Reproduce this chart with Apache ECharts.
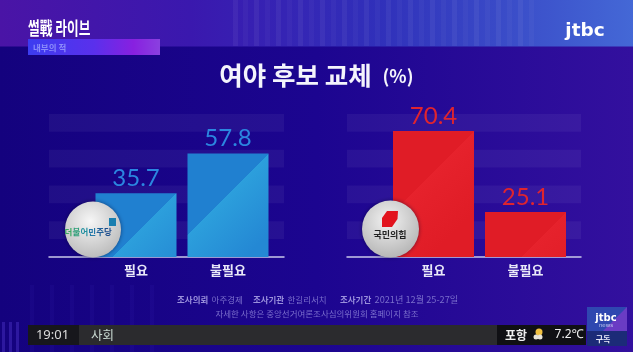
<!DOCTYPE html>
<html><head><meta charset="utf-8">
<style>html,body{margin:0;padding:0;background:#14027f}#c{width:633px;height:352px;filter:blur(0.4px)}</style>
<script src="https://cdn.jsdelivr.net/npm/echarts@6/dist/echarts.min.js"></script>
</head><body><div id="c"></div>
<script>
const categories = ['필요', '불필요'];
const democraticValues = [35.7, 57.8];
const peoplePowerValues = [70.4, 25.1];
const titleText = '여야 후보 교체';
const unitText = '(%)';
const showTitle = '썰戰 라이브';
const subTitle = '내부의 적';
const partyLeft = '더불어민주당';
const partyRight = '국민의힘';
const sourceLine2 = '자세한 사항은 중앙선거여론조사심의위원회 홈페이지 참조';
const clock = '19:01', section = '사회', city = '포항', temp = '7.2℃';

const KR = '"Noto Sans CJK KR","Noto Sans",sans-serif';
const chart = echarts.init(document.getElementById('c'), null, {renderer:'canvas'});
const yMax = 90, plotTop = 96, plotH = 161;
const pxPerUnit = plotH / yMax, barW = 81;

function grad(dark, light, end, v){
  return {type:'linear', x:0, y:0, x2:1, y2:barW/(v*pxPerUnit), colorStops:[
    {offset:0,color:dark},{offset:.5,color:dark},{offset:.5,color:light},{offset:1,color:end}]};
}
const panels = [
  {bg:[49,235], bar:[90,184], values:democraticValues, label:'#2b86e0', g:['#2080d0','#2c9fdc','#2488d4']},
  {bg:[347,234], bar:[387.5,184], values:peoplePowerValues, label:'#e0242e', g:['#e01c26','#e6222c','#e01c26']}
];
const grid=[], xAxis=[], yAxis=[], series=[];
panels.forEach((p,i)=>{
  grid.push({left:p.bg[0], width:p.bg[1], top:plotTop, height:plotH});
  xAxis.push({type:'category', gridIndex:i*2, data:[''], show:true, axisLine:{show:true,lineStyle:{color:'#c9c9ea',width:1.5}}, axisTick:{show:false}, axisLabel:{show:false}});
  yAxis.push({type:'value', gridIndex:i*2, min:0, max:yMax, interval:10, axisLabel:{show:false}, axisLine:{show:false}, axisTick:{show:false}, splitLine:{show:false},
    splitArea:{show:true, areaStyle:{color:['rgba(255,255,255,0)','rgba(255,255,255,0.05)']}}});
  grid.push({left:p.bar[0], width:p.bar[1], top:plotTop, height:plotH});
  xAxis.push({type:'category', gridIndex:i*2+1, data:categories, axisLine:{show:false}, axisTick:{show:false},
    axisLabel:{color:'#e8e8f8', fontFamily:KR, fontSize:13, fontWeight:'bold', margin:7}});
  yAxis.push({type:'value', gridIndex:i*2+1, min:0, max:yMax, interval:10, show:false});
  series.push({type:'bar', xAxisIndex:i*2+1, yAxisIndex:i*2+1, barWidth:barW, silent:true,
    data:p.values.map(v=>({value:v, itemStyle:{color:grad(p.g[0],p.g[1],p.g[2],v)}})),
    label:{show:true, position:'top', distance:3, color:p.label, fontFamily:'Lato,"Noto Sans",sans-serif', fontSize:24,
      formatter:o=>o.value.toFixed(1)}});
});

const bands = [];
[233,243,254,265,276,287,298,309,320,331,342,353,364,375,386,397,408,419,430,441,452,463,474,485,496,507,518,529].forEach((x,i)=>{
  bands.push({type:'rect', z:-1, shape:{x,y:0,width:5,height:46}, style:{fill:'rgba(255,255,255,'+(i%2?0.03:0.05)+')'}});
});
[2,9,16].forEach((x)=>{
  bands.push({type:'rect', z:-1, shape:{x,y:322,width:3,height:30}, style:{fill:'rgba(120,90,255,0.25)'}});
});
[30,50,70,90,110,130,150].forEach((x,i)=>{
  bands.push({type:'rect', z:-1, shape:{x,y:285,width:4,height:67}, style:{fill:'rgba(120,90,255,0.05)'}});
});
const T=(text,x,y,font,fill,align,z,extra)=>Object.assign({type:'text', z:z||5, style:{text,x,y,font,fill,align:align||'center',verticalAlign:'middle'}},extra||{});
const greenBlue=['#3aa862','#2f9f7a','#2290a0','#2478a8','#205f98','#1c4c8c'];

const graphic = [
  {type:'rect', z:-2, shape:{x:0,y:0,width:633,height:46.5}, style:{fill:{type:'linear',x:0,y:0,x2:1,y2:0,colorStops:[
    {offset:0,color:'#4a14a6'},{offset:.3,color:'#3a18ae'},{offset:.6,color:'#3030ba'},{offset:1,color:'#4468d6'}]}}},
  ...bands,
  {type:'rect', z:4, shape:{x:28,y:39,width:132,height:16}, style:{fill:{type:'linear',x:0,y:0,x2:1,y2:0,colorStops:[
    {offset:0,color:'#3c3cf0'},{offset:.5,color:'#5a30ec'},{offset:.8,color:'#8820e0'},{offset:1,color:'#8a40e0'}]}}},
  {type:'text', z:5, x:28, y:28, scaleX:.82, scaleY:1.15, style:{text:showTitle,x:0,y:0,font:'bold 15.5px '+KR,fill:'#ffffff',align:'left',verticalAlign:'middle'}},
  T(subTitle,33,47.5,'bold 8.5px '+KR,'rgba(170,175,255,.7)','left'),
  T('jtbc',585,31.5,'bold 18.5px "DejaVu Sans",sans-serif','#ffffff'),
  T(titleText,295.5,75,'bold 25.5px '+KR,'#f4f4fc'),
  T(unitText,398,76,'bold 18px '+KR,'#f4f4fc'),

  {type:'circle', z:8, shape:{cx:93,cy:229.5,r:28}, style:{shadowBlur:4,shadowColor:'rgba(0,0,40,.5)',fill:{type:'radial',x:.45,y:.35,r:.75,colorStops:[{offset:0,color:'#f6f6f6'},{offset:1,color:'#b4b4b4'}]}}},
  {type:'rect', z:9, shape:{x:109,y:218,width:7,height:8}, style:{fill:'#1a7fb0'}},
  ...partyLeft.split('').map((c,i)=>T(c,68.5+i*7.9,231.5,'bold 8.5px '+KR,greenBlue[i],'center',9)),

  {type:'circle', z:8, shape:{cx:390.5,cy:229,r:28.5}, style:{shadowBlur:4,shadowColor:'rgba(0,0,40,.5)',fill:{type:'radial',x:.45,y:.35,r:.75,colorStops:[{offset:0,color:'#f2f2f2'},{offset:1,color:'#aeaeae'}]}}},
  {type:'polygon', z:9, shape:{points:[[387,211],[398,211],[397.5,219],[392,227],[382,227],[382,218]]}, style:{fill:'#e2141e'}},
  T(partyRight,390,235,'bold 9px '+KR,'#222222','center',9),

  {type:'text', z:5, style:{x:177,y:300,align:'left',verticalAlign:'middle',rich:{
      b:{fontSize:8.5,fontFamily:KR,fontWeight:'bold',fill:'#9a90dc'},
      n:{fontSize:8.5,fontFamily:KR,fill:'#7a6ecc'},
      d:{fontSize:9.2,fontFamily:KR,fill:'#7a6ecc'}},
    text:'{b|조사의뢰} {n|아주경제}   {b|조사기관} {n|한길리서치}    {b|조사기간} {d|2021년 12월 25-27일}'}},
  T(sourceLine2,317,313.5,'8.5px '+KR,'#7a6ecc'),

  {type:'rect', z:6, shape:{x:28,y:325,width:558,height:20}, style:{fill:'#2b2b2e'}},
  {type:'rect', z:6, shape:{x:28,y:325,width:51,height:20}, style:{fill:'#17171c'}},
  {type:'rect', z:6, shape:{x:497,y:325,width:89,height:20}, style:{fill:'#101014'}},
  T(clock,52.5,335,'13px "Noto Sans",sans-serif','#dcdcdc','center',7),
  T(section,91,335,'12.5px '+KR,'#c8d8d0','left',7),
  T(city,516,335,'bold 12px '+KR,'#f0f0f0','center',7),
  {type:'circle', z:7, shape:{cx:539,cy:332,r:3.5}, style:{fill:'#f0c040'}},
  {type:'circle', z:8, shape:{cx:536,cy:337,r:2.5}, style:{fill:'#e8e4d8'}},
  {type:'circle', z:8, shape:{cx:540,cy:337,r:2.5}, style:{fill:'#e8e4d8'}},
  T(temp,569,335,'12px "Noto Sans",sans-serif','#f0f0f0','center',7),

  {type:'rect', z:6, shape:{x:587,y:307,width:40,height:24}, style:{fill:'#2f47b0'}},
  {type:'polygon', z:7, shape:{points:[[603,331],[627,307],[627,331]]}, style:{fill:'#6a3cc4'}},
  {type:'rect', z:7, shape:{x:587,y:331,width:40,height:15}, style:{fill:'#1c2b78'}},
  T('jtbc',606,318,'bold 10px "DejaVu Sans",sans-serif','#ffffff','center',8),
  T('news',606,325.5,'5.5px "DejaVu Sans",sans-serif','#c0c8f0','center',8),
  T('구독',603,338.5,'bold 8px '+KR,'#e8e8f8','center',8)
];

chart.setOption({
  animation:false,
  backgroundColor:{type:'linear',x:0,y:0,x2:1,y2:0,colorStops:[
    {offset:0,color:'#14027e'},{offset:.5,color:'#1c0590'},{offset:1,color:'#33109e'}]},
  grid, xAxis, yAxis, series, graphic
});
</script></body></html>
